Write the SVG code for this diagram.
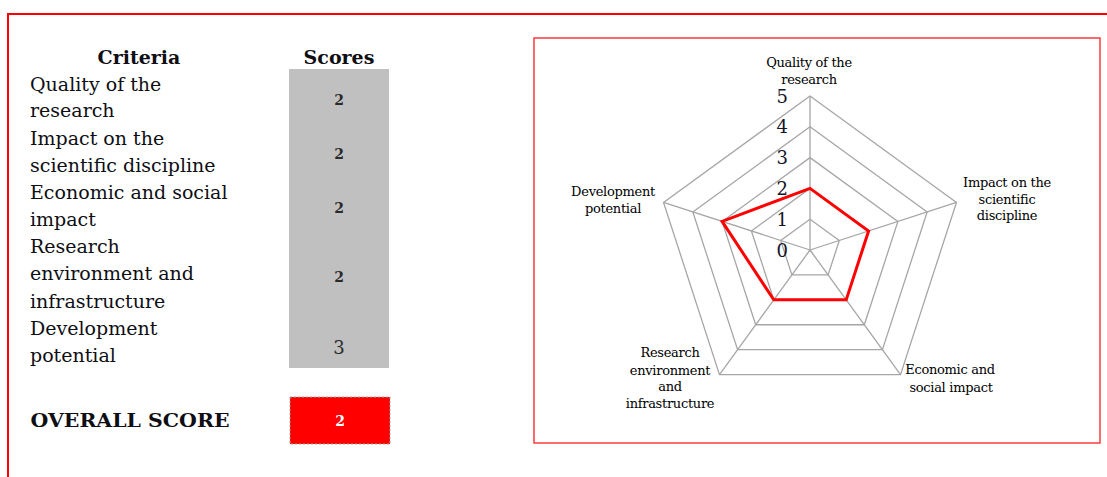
<svg xmlns="http://www.w3.org/2000/svg" width="1107" height="477" viewBox="0 0 1107 477">
<style>
.t{font-family:"DejaVu Serif","Liberation Serif",serif;font-size:19px;fill:#0e0e14}
.h{font-family:"DejaVu Serif","Liberation Serif",serif;font-size:19px;font-weight:bold;fill:#0e0e14;text-anchor:middle}
.s{font-family:"DejaVu Serif","Liberation Serif",serif;font-size:14px;font-weight:bold;fill:#2a2a2a;text-anchor:middle}
.c{font-family:"DejaVu Serif","Liberation Serif",serif;font-size:13px;fill:#000;text-anchor:middle;letter-spacing:-0.3px}
.k{font-family:"DejaVu Serif","Liberation Serif",serif;font-size:18px;fill:#14142a;text-anchor:end}
.g{fill:none;stroke:#a6a6a6;stroke-width:1.3}
</style>
<rect width="1107" height="477" fill="#fff"/>
<g id="frame">
<line x1="8" y1="14" x2="1107" y2="14" stroke="#ff0000" stroke-width="2"/>
<line x1="8" y1="13" x2="8" y2="477" stroke="#ff0000" stroke-width="2"/>
</g>
<g id="table">
<text class="h" x="139" y="64">Criteria</text>
<text class="h" x="339" y="64">Scores</text>
<rect x="289" y="69" width="100" height="299" fill="#c0c0c0"/>
<text class="t" x="30" y="91">Quality of the</text>
<text class="t" x="30" y="117">research</text>
<text class="t" x="30" y="145">Impact on the</text>
<text class="t" x="30" y="172">scientific discipline</text>
<text class="t" x="30" y="199">Economic and social</text>
<text class="t" x="30" y="226">impact</text>
<text class="t" x="30" y="253">Research</text>
<text class="t" x="30" y="280">environment and</text>
<text class="t" x="30" y="308">infrastructure</text>
<text class="t" x="30" y="335">Development</text>
<text class="t" x="30" y="362">potential</text>
<text class="s" x="339" y="105">2</text>
<text class="s" x="339" y="159">2</text>
<text class="s" x="339" y="213">2</text>
<text class="s" x="339" y="282">2</text>
<text class="s" x="339" y="354" style="font-size:18px;font-weight:normal">3</text>
<text class="h" x="130" y="427" textLength="199" lengthAdjust="spacingAndGlyphs">OVERALL SCORE</text>
<rect x="290" y="397" width="100" height="47" fill="#ff0000" stroke="#a0a0a0" stroke-width="1" stroke-dasharray="2,2"/>
<text class="s" x="340" y="426" style="fill:#fff">2</text>
</g>
<g id="chart">
<rect x="534" y="38" width="566" height="405" fill="none" stroke="#ff3b3b" stroke-width="1.5"/>
<g id="grid">
<polygon class="g" points="810,219.2 839.29,240.48 828.1,274.92 791.9,274.92 780.71,240.48"/>
<polygon class="g" points="810,188.4 868.59,230.96 846.21,299.84 773.79,299.84 751.41,230.96"/>
<polygon class="g" points="810,157.6 897.88,221.45 864.31,324.75 755.69,324.75 722.12,221.45"/>
<polygon class="g" points="810,126.8 927.17,211.93 882.42,349.67 737.58,349.67 692.83,211.93"/>
<polygon class="g" points="810,96 956.46,202.41 900.52,374.59 719.48,374.59 663.54,202.41"/>
</g>
<g id="connectors">
<line class="g" x1="810" y1="250" x2="810" y2="96"/>
<line class="g" x1="810" y1="250" x2="956.46" y2="202.41"/>
<line class="g" x1="810" y1="250" x2="900.52" y2="374.59"/>
<line class="g" x1="810" y1="250" x2="719.48" y2="374.59"/>
<line class="g" x1="810" y1="250" x2="663.54" y2="202.41"/>
</g>
<g id="ticks">
<text class="k" x="788" y="257">0</text>
<text class="k" x="788" y="226">1</text>
<text class="k" x="788" y="195">2</text>
<text class="k" x="788" y="164">3</text>
<text class="k" x="788" y="133">4</text>
<text class="k" x="788" y="103">5</text>
</g>
<g id="data">
<polygon points="810,188.4 868.59,230.96 846.21,299.84 773.79,299.84 722.12,221.45" fill="none" stroke="#ff0000" stroke-width="3" stroke-linejoin="miter"/>
</g>
<g id="axis-quality">
<text class="c" x="809" y="67">Quality of the</text>
<text class="c" x="809" y="84">research</text>
</g>
<g id="axis-impact">
<text class="c" x="1007" y="187">Impact on the</text>
<text class="c" x="1007" y="204">scientific</text>
<text class="c" x="1007" y="220">discipline</text>
</g>
<g id="axis-economic">
<text class="c" x="950" y="374">Economic and</text>
<text class="c" x="951" y="392">social impact</text>
</g>
<g id="axis-research">
<text class="c" x="670" y="357">Research</text>
<text class="c" x="670" y="375">environment</text>
<text class="c" x="670" y="391">and</text>
<text class="c" x="670" y="408">infrastructure</text>
</g>
<g id="axis-development">
<text class="c" x="613" y="196">Development</text>
<text class="c" x="613" y="213">potential</text>
</g>
</g>
</svg>
